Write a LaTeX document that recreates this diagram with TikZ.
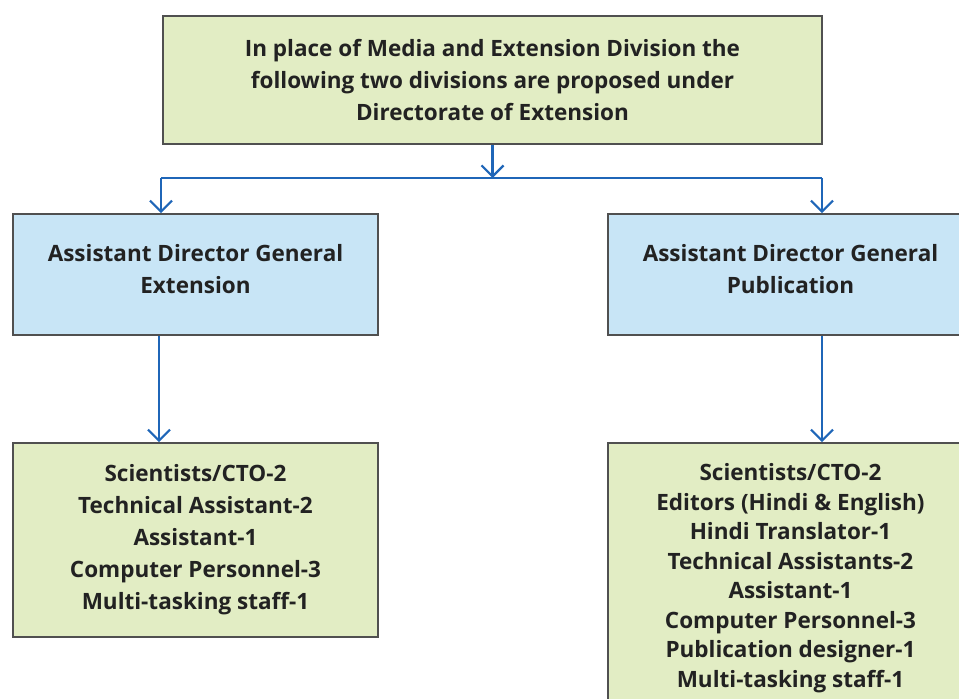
\documentclass[tikz,border=0pt]{standalone}
\usepackage{fontspec}
\setmainfont{Open Sans}
\usetikzlibrary{arrows.meta}

\definecolor{boxgreen}{HTML}{E2EDC4}
\definecolor{boxblue}{HTML}{C8E5F6}
\definecolor{boxline}{HTML}{505050}
\definecolor{linkblue}{HTML}{1F66B8}
\definecolor{txt}{HTML}{222222}

\tikzset{
  unit/.style={draw=boxline,line width=1.6pt,text=txt,align=center,
    inner sep=0pt,font=\fontsize{22.5}{32}\selectfont\bfseries},
  headbox/.style={unit,fill=boxgreen},
  adgbox/.style={unit,fill=boxblue,text depth=12pt},
  staffbox/.style={unit,fill=boxgreen},
  link/.style={draw=linkblue,line width=2.2pt,
    -{Straight Barb[length=11pt,width=22pt,line width=2.2pt]}},
}

\begin{document}
\begin{tikzpicture}[x=1pt,y=-1pt]
   \clip (0,0) rectangle (959,699);
   % directorate box on top
   \node[headbox,minimum width=659,minimum height=128] (dir) at (492.5,80)
     {In place of Media and Extension Division the\\
      following two divisions are proposed under\\
      Directorate of Extension};
   % the two assistant director general boxes
   \node[adgbox,minimum width=365,minimum height=121] (adgext) at (195.5,274.5)
     {Assistant Director General\\Extension};
   \node[adgbox,minimum width=365,minimum height=121] (adgpub) at (790.5,274.5)
     {Assistant Director General\\Publication};
   % staff under each division
   \node[staffbox,minimum width=365,minimum height=194] (staffext) at (195.5,540)
     {Scientists/CTO-2\\Technical Assistant-2\\Assistant-1\\
      Computer Personnel-3\\Multi-tasking staff-1};
   \node[staffbox,minimum width=365,minimum height=270,
     font=\fontsize{22.5}{29.5}\selectfont\bfseries] (staffpub) at (790.5,578)
     {Scientists/CTO-2\\Editors (Hindi \& English)\\Hindi Translator-1\\
      Technical Assistants-2\\Assistant-1\\Computer Personnel-3\\
      Publication designer-1\\Multi-tasking staff-1};
   % junction line
   \coordinate (split) at (dir.south |- 0,178);
   \coordinate (splitl) at (161,178);
   \coordinate (splitr) at (822,178);
   \draw[link] (dir.south) -- (split);
   \draw[link,-] (splitl) -- (splitr);
   \draw[link] (splitl) -- (splitl |- adgext.north);
   \draw[link] (splitr) -- (splitr |- adgpub.north);
   \draw[link] (adgext.south -| 159,0) -- (staffext.north -| 159,0);
   \draw[link] (adgpub.south -| 822,0) -- (staffpub.north -| 822,0);
\end{tikzpicture}
\end{document}
